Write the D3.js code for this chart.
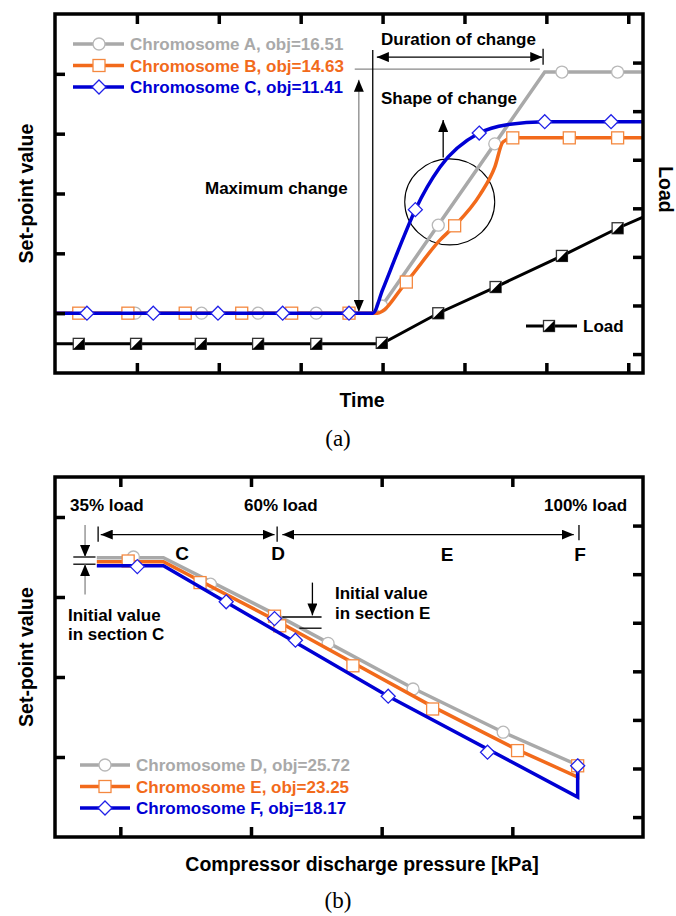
<!DOCTYPE html>
<html>
<head>
<meta charset="utf-8">
<script src="https://cdn.jsdelivr.net/npm/d3@7"></script>
<style>
  body { margin: 0; background: #fff; }
  text { font-family: Arial, "Liberation Sans", sans-serif; font-weight: bold; }
</style>
</head>
<body>
<div id="chart"></div>
<script>
// ---------- panel (a) data ----------
const timeTicks = [1, 2, 3, 4, 5, 6, 7];
const setTicksA = [1, 2, 3, 4, 5];
const loadTicks = [1, 2, 3, 4, 5, 6, 7];

const namesA = ["Chromosome A, obj=16.51", "Chromosome B, obj=14.63", "Chromosome C, obj=11.41"];

const lineAt = [0, 3.93, 5.98, 7.18];
const lineAv = [1, 1, 5.03, 5.03];
const markAt = [0.98, 1.79, 2.48, 3.19, 3.99, 4.68, 5.37, 6.19, 6.87];
const markAv = [1, 1, 1, 1, 1.12, 2.47, 3.83, 5.03, 5.03];

const lineBt = [0, 3.93, 4.29, 4.70, 4.88, 5.19, 5.37, 5.47, 5.59, 7.18];
const lineBv = [1, 1, 1.52, 2.22, 2.46, 2.98, 3.44, 3.86, 3.93, 3.93];
const markBt = [0.29, 0.89, 1.59, 2.28, 2.89, 3.59, 4.29, 4.88, 5.59, 6.28, 6.87];
const markBv = [1, 1, 1, 1, 1, 1, 1.52, 2.46, 3.93, 3.93, 3.93];

const lineCt = [0, 3.88, 4.00, 4.18, 4.40, 4.70, 5.18, 5.52, 5.98, 7.18];
const lineCv = [1, 1, 1.39, 2.01, 2.73, 3.44, 4.01, 4.15, 4.20, 4.20];
const markCt = [0.39, 1.20, 1.99, 2.78, 3.59, 4.40, 5.18, 5.98, 6.79];
const markCv = [1, 1, 1, 1, 1, 2.73, 4.01, 4.20, 4.20];

const loadT = [0, 3.99, 4.68, 5.38, 6.19, 6.87, 7.18];
const loadV = [1.21, 1.21, 1.84, 2.38, 3.02, 3.59, 3.82];
const loadMt = [0.29, 0.99, 1.78, 2.48, 3.19, 3.99, 4.68, 5.38, 6.19, 6.87];
const loadMv = [1.21, 1.21, 1.21, 1.21, 1.21, 1.23, 1.84, 2.38, 3.02, 3.59];

// ---------- panel (b) data ----------
const pressTicks = [0, 1, 2, 3];
const setTicksB = [1, 2, 3, 4];
const rightTicksB = [1, 2, 3, 4, 5, 6, 7];

const namesB = ["Chromosome D, obj=25.72", "Chromosome E, obj=23.25", "Chromosome F, obj=18.17"];

const lineDx = [-0.18, 0.33, 1.19, 2.24, 2.93, 3.50];
const lineDv = [3.49, 3.49, 2.78, 1.86, 1.31, 0.90];
const markDx = [0.10, 0.69, 1.59, 2.24, 2.93];
const markDv = [3.50, 3.16, 2.42, 1.85, 1.31];

const lineEx = [-0.18, 0.33, 1.21, 2.39, 3.04, 3.50, 3.50];
const lineEv = [3.44, 3.44, 2.69, 1.63, 1.09, 0.75, 0.89];
const markEx = [0.06, 0.61, 1.18, 1.22, 1.78, 2.39, 3.04, 3.50];
const markEv = [3.45, 3.18, 2.76, 2.64, 2.14, 1.60, 1.08, 0.89];

const lineFx = [-0.18, 0.33, 2.05, 3.50, 3.50];
const lineFv = [3.39, 3.39, 1.76, 0.50, 0.89];
const markFx = [0.13, 0.81, 1.18, 1.34, 2.05, 2.81, 3.50];
const markFv = [3.38, 2.94, 2.73, 2.46, 1.76, 1.06, 0.89];

// colours
const cGray = "#a9a9a9", cOrange = "#f26a1b", cBlue = "#0000d4";

const svg = d3.select("#chart").append("svg")
  .attr("width", 676)
  .attr("height", 916);

// arrow head marker
svg.append("defs").append("marker")
  .attr("id", "ah")
  .attr("viewBox", "0 0 12 10")
  .attr("refX", 12).attr("refY", 5)
  .attr("markerWidth", 12).attr("markerHeight", 10)
  .attr("markerUnits", "userSpaceOnUse")
  .attr("orient", "auto-start-reverse")
  .append("path").attr("d", "M0,0 L12,5 L0,10 Z").attr("fill", "#000");

const zip = (a, b) => a.map((d, i) => [d, b[i]]);

// marker drawing
function drawMarker(g, type, x, y) {
  if (type === "circle") {
    g.append("circle").attr("cx", x).attr("cy", y).attr("r", 6)
      .attr("fill", "#fff").attr("stroke", "#b8b8b8").attr("stroke-width", 1.3);
  } else if (type === "square") {
    g.append("rect").attr("x", x - 6).attr("y", y - 6).attr("width", 12).attr("height", 12)
      .attr("fill", "#fff").attr("stroke", "#f4883f").attr("stroke-width", 1.3);
  } else if (type === "diamond") {
    g.append("path").attr("d", `M${x},${y - 7}L${x + 7},${y}L${x},${y + 7}L${x - 7},${y}Z`)
      .attr("fill", "#fff").attr("stroke", "#2020e8").attr("stroke-width", 1.3);
  } else if (type === "load") {
    g.append("rect").attr("x", x - 5.5).attr("y", y - 5.5).attr("width", 11).attr("height", 11)
      .attr("fill", "#fff").attr("stroke", "#333").attr("stroke-width", 1.3);
    g.append("path").attr("d", `M${x + 5.5},${y - 5.5}L${x + 5.5},${y + 5.5}L${x - 5.5},${y + 5.5}Z`)
      .attr("fill", "#000");
  }
}

function frame(left, top, right, bottom, x, y, yr, xt, yt, yrt) {
  const g = svg.append("g");
  const tk = (sel) => { sel.select(".domain").remove(); sel.selectAll(".tick line").attr("stroke", "#000").attr("stroke-width", 3.5); };
  g.append("g").attr("transform", `translate(0,${bottom})`)
    .call(d3.axisBottom(x).tickValues(xt).tickSize(-10).tickFormat("")).call(tk);
  g.append("g").attr("transform", `translate(0,${top})`)
    .call(d3.axisTop(x).tickValues(xt).tickSize(-10).tickFormat("")).call(tk);
  g.append("g").attr("transform", `translate(${left},0)`)
    .call(d3.axisLeft(y).tickValues(yt).tickSize(-10).tickFormat("")).call(tk);
  g.append("g").attr("transform", `translate(${right},0)`)
    .call(d3.axisRight(yr).tickValues(yrt).tickSize(-10).tickFormat("")).call(tk);
  g.append("rect").attr("x", left).attr("y", top)
    .attr("width", right - left).attr("height", bottom - top)
    .attr("fill", "none").attr("stroke", "#000").attr("stroke-width", 3.5);
}

function arrow(x1, y1, x2, y2, both, color) {
  const l = svg.append("line").attr("x1", x1).attr("y1", y1).attr("x2", x2).attr("y2", y2)
    .attr("stroke", color || "#000").attr("stroke-width", 1.3)
    .attr("marker-end", "url(#ah)");
  if (both) l.attr("marker-start", "url(#ah)");
}
function thin(x1, y1, x2, y2, color) {
  svg.append("line").attr("x1", x1).attr("y1", y1).attr("x2", x2).attr("y2", y2)
    .attr("stroke", color || "#000").attr("stroke-width", 1.3);
}
function label(x, y, str, opts = {}) {
  const t = svg.append("text").attr("x", x).attr("y", y).text(str)
    .style("font-size", (opts.size || 17) + "px")
    .attr("fill", opts.fill || "#000")
    .attr("text-anchor", opts.anchor || "start");
  if (opts.rotate) t.attr("transform", `rotate(${opts.rotate},${x},${y})`);
  if (opts.serif) t.style("font-family", "'Liberation Serif', 'DejaVu Serif', serif").style("font-weight", "normal");
  return t;
}

// ================= panel (a) =================
const A = { left: 55, top: 14, right: 643, bottom: 373 };
const xA = d3.scaleLinear().domain([0, 7.18]).range([A.left, A.right]);
const yA = d3.scaleLinear().domain([0, 6]).range([A.bottom, A.top]);
const yL = d3.scaleLinear().domain([0.61, 8]).range([A.bottom, A.top]);

const lineLinA = d3.line().x(d => xA(d[0])).y(d => yA(d[1]));
const lineCurveA = d3.line().x(d => xA(d[0])).y(d => yA(d[1])).curve(d3.curveMonotoneX);
const lineLoad = d3.line().x(d => xA(d[0])).y(d => yL(d[1]));

const seriesA = [
  { line: zip(lineAt, lineAv), marks: zip(markAt, markAv), color: cGray, type: "circle", gen: lineLinA },
  { line: zip(lineBt, lineBv), marks: zip(markBt, markBv), color: cOrange, type: "square", gen: lineCurveA },
  { line: zip(lineCt, lineCv), marks: zip(markCt, markCv), color: cBlue, type: "diamond", gen: lineCurveA }
];

// load series
const gLoad = svg.append("g");
gLoad.append("path").datum(zip(loadT, loadV)).attr("d", lineLoad)
  .attr("fill", "none").attr("stroke", "#000").attr("stroke-width", 3);
zip(loadMt, loadMv).forEach(d => drawMarker(gLoad, "load", xA(d[0]), yL(d[1])));

// annotations (a)
thin(xA(3.66), yA(5.08), xA(5.92), yA(5.08), "#888");
thin(xA(3.88), yA(5.40), xA(3.88), yA(1.0));
arrow(xA(3.93), yA(5.28), xA(5.95), yA(5.28), true);
thin(xA(5.96), yA(5.42), xA(5.96), yA(5.15));
arrow(xA(3.71), yA(4.90), xA(3.71), yA(1.02), true, "#888");
arrow(xA(4.74), yA(3.60), xA(4.74), yA(4.23), false);
svg.append("ellipse").attr("cx", xA(4.82)).attr("cy", yA(2.86)).attr("rx", 45).attr("ry", 43)
  .attr("fill", "none").attr("stroke", "#000").attr("stroke-width", 1.1);

seriesA.forEach(s => {
  const g = svg.append("g");
  g.append("path").datum(s.line).attr("d", s.gen)
    .attr("fill", "none").attr("stroke", s.color).attr("stroke-width", 3.5);
  s.marks.forEach(d => drawMarker(g, s.type, xA(d[0]), yA(d[1])));
});

frame(A.left, A.top, A.right, A.bottom, xA, yA, yL, timeTicks, setTicksA, loadTicks);

// legend (a)
seriesA.forEach((s, i) => {
  const yy = 44 + i * 21.5;
  const g = svg.append("g");
  g.append("line").attr("x1", 73).attr("x2", 124).attr("y1", yy).attr("y2", yy)
    .attr("stroke", s.color).attr("stroke-width", 3.5);
  drawMarker(g, s.type, 99, yy);
  label(130, yy + 6, namesA[i], { fill: s.color });
});
{
  const g = svg.append("g");
  g.append("line").attr("x1", 526).attr("x2", 577).attr("y1", 326).attr("y2", 326)
    .attr("stroke", "#000").attr("stroke-width", 3);
  drawMarker(g, "load", 549, 326);
  label(583, 332, "Load");
}

label(381, 45, "Duration of change");
label(381, 104, "Shape of change");
label(205, 194, "Maximum change");

label(33, (A.top + A.bottom) / 2, "Set-point value", { size: 19.5, anchor: "middle", rotate: -90 });
label(659, (A.top + A.bottom) / 2 - 4, "Load", { size: 19.5, anchor: "middle", rotate: 90 });
label(362, 407, "Time", { size: 19.5, anchor: "middle" });
label(338, 446, "(a)", { size: 23, anchor: "middle", serif: true });

// ================= panel (b) =================
const B = { left: 55, top: 477, right: 643, bottom: 837 };
const xB = d3.scaleLinear().domain([-0.5, 4]).range([B.left, B.right]);
const yB = d3.scaleLinear().domain([0, 4.5]).range([B.bottom, B.top]);
const yBr = d3.scaleLinear().domain([0.59, 8]).range([B.bottom, B.top]);
const lineB = d3.line().x(d => xB(d[0])).y(d => yB(d[1]));

const seriesB = [
  { line: zip(lineDx, lineDv), marks: zip(markDx, markDv), color: cGray, type: "circle" },
  { line: zip(lineEx, lineEv), marks: zip(markEx, markEv), color: cOrange, type: "square" },
  { line: zip(lineFx, lineFv), marks: zip(markFx, markFv), color: cBlue, type: "diamond" }
];
seriesB.forEach(s => {
  const g = svg.append("g");
  g.append("path").datum(s.line).attr("d", lineB)
    .attr("fill", "none").attr("stroke", s.color).attr("stroke-width", 3.5);
  s.marks.forEach(d => drawMarker(g, s.type, xB(d[0]), yB(d[1])));
});

frame(B.left, B.top, B.right, B.bottom, xB, yB, yBr, pressTicks, setTicksB, rightTicksB);

// annotations (b)
thin(xB(-0.17), yB(3.88), xB(-0.17), yB(3.69));
thin(xB(1.20), yB(3.88), xB(1.20), yB(3.69));
thin(xB(3.51), yB(3.90), xB(3.51), yB(3.71));
arrow(xB(-0.15), yB(3.78), xB(1.18), yB(3.78), true);
arrow(xB(1.24), yB(3.78), xB(3.47), yB(3.78), true);

thin(xB(-0.36), yB(3.50), xB(-0.19), yB(3.50));
thin(xB(-0.36), yB(3.41), xB(-0.19), yB(3.41));
arrow(xB(-0.27), yB(3.90), xB(-0.27), yB(3.50), false, "#888");
arrow(xB(-0.27), yB(3.03), xB(-0.27), yB(3.41), false, "#888");

thin(xB(1.24), yB(2.75), xB(1.54), yB(2.75));
thin(xB(1.37), yB(2.61), xB(1.54), yB(2.61));
arrow(xB(1.47), yB(3.18), xB(1.47), yB(2.77), false);

label(70, 511, "35% load");
label(244, 511, "60% load");
label(544, 511, "100% load");
label(182, 560, "C", { size: 19, anchor: "middle" });
label(278, 560, "D", { size: 19, anchor: "middle" });
label(447, 561, "E", { size: 19, anchor: "middle" });
label(580, 561, "F", { size: 19, anchor: "middle" });
label(68, 621, "Initial value");
label(68, 640, "in section C");
label(335, 599, "Initial value");
label(335, 619, "in section E");

seriesB.forEach((s, i) => {
  const yy = 765 + i * 21.5;
  const g = svg.append("g");
  g.append("line").attr("x1", 80).attr("x2", 130).attr("y1", yy).attr("y2", yy)
    .attr("stroke", s.color).attr("stroke-width", 3.5);
  drawMarker(g, s.type, 105, yy);
  label(136, yy + 6, namesB[i], { fill: s.color });
});

label(33, (B.top + B.bottom) / 2, "Set-point value", { size: 19.5, anchor: "middle", rotate: -90 });
label(362, 871, "Compressor discharge pressure [kPa]", { size: 19.5, anchor: "middle" });
label(338, 908, "(b)", { size: 23, anchor: "middle", serif: true });
</script>
</body>
</html>
